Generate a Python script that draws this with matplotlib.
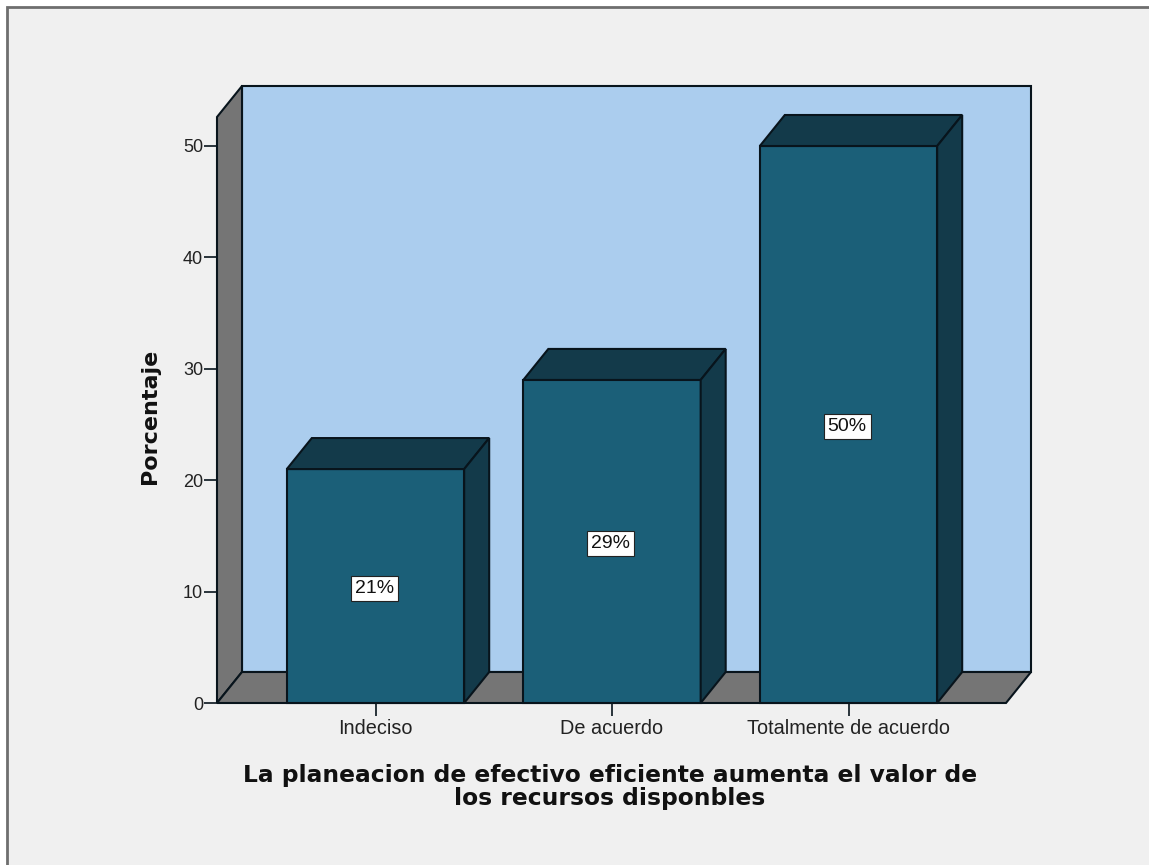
import matplotlib
matplotlib.use("Agg")
import matplotlib.pyplot as plt
from matplotlib.patches import Polygon, Rectangle

categories = ['Indeciso', 'De acuerdo', 'Totalmente de acuerdo']
values = [21, 29, 50]
labels = ['21%', '29%', '50%']
yticks = [0, 10, 20, 30, 40, 50]

plt.rcParams['font.family'] = ['Liberation Sans', 'DejaVu Sans']

W, H = 1149, 865
BG = '#f0f0f0'
WALL = '#abcdee'
SIDE = '#757575'
BAR = '#1b5f78'
BAR_DARK = '#133a4a'
EDGE = '#08141c'

fig = plt.figure(figsize=(W/100, H/100), dpi=100, facecolor='white')

# outer window frame
fig.add_artist(Rectangle((6.5/W, -0.01), 1.1, 1 - 6.5/H + 0.01, transform=fig.transFigure,
                         facecolor=BG, edgecolor='#6e6e6e', linewidth=2, zorder=-1))

# axes box runs from the front-left corner to the back wall top
left, right, bottom, top = 217, 1031, 703, 86
ax = fig.add_axes([left/W, 1 - bottom/H, (right-left)/W, (bottom-top)/H])
ax.patch.set_visible(False)
px_x = 236.5
px_y = 11.14
ax.set_xlim((left-375.5)/px_x, (right-375.5)/px_x)
ax.set_ylim(0, (bottom-top)/px_y)
for s in ax.spines.values():
    s.set_visible(False)

dx = 25/px_x
dy = 31/px_y
x0 = ax.get_xlim()[0]
x1 = ax.get_xlim()[1] - dx
ymax = ax.get_ylim()[1] - dy
lw = 1.5

# back wall, side wall, floor
ax.add_patch(Polygon([(x0+dx, dy), (x1+dx, dy), (x1+dx, ymax+dy), (x0+dx, ymax+dy)],
                     facecolor=WALL, edgecolor=EDGE, lw=lw, clip_on=False, zorder=1))
ax.add_patch(Polygon([(x0, 0), (x0+dx, dy), (x0+dx, ymax+dy), (x0, ymax)],
                     facecolor=SIDE, edgecolor=EDGE, lw=lw, clip_on=False, zorder=1))
ax.add_patch(Polygon([(x0, 0), (x1, 0), (x1+dx, dy), (x0+dx, dy)],
                     facecolor=SIDE, edgecolor=EDGE, lw=lw, clip_on=False, zorder=1))

positions = range(len(categories))
bw = 0.75
ax.bar(positions, values, width=bw, color=BAR, edgecolor=EDGE, linewidth=lw, zorder=3, clip_on=False)
for p, v, lab in zip(positions, values, labels):
    l, r = p - bw/2, p + bw/2
    ax.add_patch(Polygon([(l, v), (r, v), (r+dx, v+dy), (l+dx, v+dy)],
                         facecolor=BAR_DARK, edgecolor=EDGE, lw=lw, zorder=3, clip_on=False))
    ax.add_patch(Polygon([(r, 0), (r+dx, dy), (r+dx, v+dy), (r, v)],
                         facecolor=BAR_DARK, edgecolor=EDGE, lw=lw, zorder=3, clip_on=False))
    ax.annotate(lab, (p, v/2), xytext=(-1, -1.5), textcoords='offset points',
                ha='center', va='center', fontsize=14, color='#111111', zorder=5,
                bbox=dict(boxstyle='square,pad=0.2', facecolor='white', edgecolor='#222222', linewidth=0.8))

ax.set_xticks(list(positions), labels=categories)
ax.set_yticks(yticks)
ax.tick_params(axis='x', length=9.5, width=1.2, pad=2, labelsize=14.3, labelcolor='#222222', color=EDGE)
ax.tick_params(axis='y', length=9.5, width=1.2, pad=0.5, labelsize=13, labelcolor='#222222', color=EDGE)

fig.text(150/W, 1 - 416/H, 'Porcentaje', rotation=90, ha='center', va='center',
         fontsize=16, fontweight='bold', color='#111111', family=['DejaVu Sans'])
fig.text(610/W, 1 - 787/H, 'La planeacion de efectivo eficiente aumenta el valor de\nlos recursos disponbles',
         ha='center', va='center', fontsize=16.8, fontweight='bold', color='#111111', linespacing=1.0,
         family=['DejaVu Sans'])

fig.savefig('out.png', dpi=100, facecolor=fig.get_facecolor())
